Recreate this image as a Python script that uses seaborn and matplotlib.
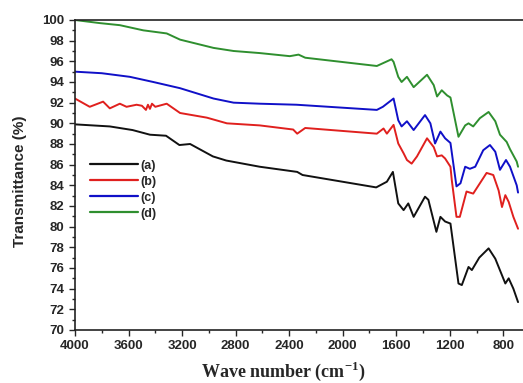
import matplotlib
matplotlib.use('Agg')
import matplotlib.pyplot as plt
from matplotlib.ticker import MultipleLocator
import seaborn as sns
import pandas as pd

# spectra: wavenumber (cm-1) and transmittance (%)
wn_a = [4000, 3740, 3570, 3440, 3320, 3220, 3140, 2970, 2870, 2620, 2340, 2300,
        1750, 1670, 1625, 1585, 1545, 1510, 1470, 1385, 1360, 1300, 1270, 1235,
        1195, 1135, 1110, 1060, 1035, 980, 910, 860, 785, 760, 725, 690]
t_a = [89.9, 89.7, 89.35, 88.9, 88.8, 87.9, 88.0, 86.8, 86.4, 85.8, 85.3, 85.0,
       83.8, 84.35, 85.3, 82.25, 81.6, 82.25, 80.95, 82.9, 82.6, 79.5, 80.95, 80.5,
       80.3, 74.5, 74.35, 76.1, 75.8, 77.0, 77.9, 76.9, 74.5, 75.0, 74.0, 72.7]

wn_b = [4000, 3890, 3790, 3740, 3665, 3615, 3540, 3500, 3470, 3455, 3440, 3425,
        3400, 3315, 3215, 3015, 2865, 2620, 2370, 2340, 2280, 1745, 1695, 1670,
        1620, 1585, 1545, 1520, 1485, 1445, 1370, 1320, 1295, 1260, 1235, 1195,
        1185, 1150, 1125, 1075, 1025, 925, 875, 835, 810, 785, 760, 725, 690]
t_b = [92.4, 91.6, 92.1, 91.45, 91.9, 91.6, 91.8, 91.7, 91.3, 91.8, 91.4, 91.9,
       91.6, 91.9, 91.0, 90.55, 90.0, 89.8, 89.4, 89.0, 89.55, 89.0, 89.5, 89.0,
       89.85, 88.05, 87.1, 86.45, 86.1, 86.8, 88.55, 87.7, 86.8, 86.9, 86.6, 85.8,
       84.5, 80.95, 80.95, 83.4, 83.2, 85.2, 85.0, 83.5, 81.9, 83.05, 82.4, 80.95, 79.8]

wn_c = [4000, 3800, 3590, 3415, 3215, 2965, 2815, 2620, 2345, 1745, 1700, 1620,
        1585, 1560, 1520, 1470, 1385, 1345, 1310, 1270, 1235, 1195, 1150, 1120,
        1085, 1050, 1010, 950, 900, 860, 825, 780, 750, 700, 690]
t_c = [95.0, 94.85, 94.5, 94.0, 93.4, 92.4, 92.0, 91.9, 91.8, 91.3, 91.6, 92.4,
       90.3, 89.7, 90.2, 89.35, 90.8, 90.0, 88.05, 89.2, 88.55, 88.1, 83.9, 84.2,
       85.8, 85.6, 85.8, 87.4, 87.9, 87.25, 85.5, 86.45, 85.8, 84.0, 83.3]

wn_d = [4000, 3815, 3665, 3490, 3315, 3215, 2965, 2815, 2620, 2395, 2330, 2280,
        1745, 1635, 1620, 1585, 1560, 1520, 1470, 1370, 1320, 1295, 1260, 1220,
        1195, 1135, 1085, 1060, 1025, 975, 910, 860, 825, 775, 750, 700, 690]
t_d = [100.0, 99.7, 99.5, 99.0, 98.7, 98.1, 97.3, 97.0, 96.8, 96.5, 96.65, 96.35,
       95.55, 96.2, 95.95, 94.5, 94.0, 94.5, 93.5, 94.7, 93.7, 92.6, 93.2, 92.7,
       92.5, 88.7, 89.8, 90.0, 89.7, 90.5, 91.1, 90.2, 88.9, 88.2, 87.5, 86.3, 85.8]

labels = ['(a)', '(b)', '(c)', '(d)']
colors = ['#111111', '#e0201e', '#1010c8', '#2f8f2f']

frames = []
for lab, wn, t in zip(labels, [wn_a, wn_b, wn_c, wn_d], [t_a, t_b, t_c, t_d]):
    frames.append(pd.DataFrame({'wn': wn, 'T': t, 'sample': lab}))
df = pd.concat(frames, ignore_index=True)

sns.set_style('ticks')
plt.rcParams['font.family'] = ['Liberation Sans', 'DejaVu Sans']
plt.rcParams['mathtext.fontset'] = 'custom'
plt.rcParams['mathtext.rm'] = 'Liberation Serif:bold'
plt.rcParams['mathtext.bf'] = 'Liberation Serif:bold'

fig = plt.figure(figsize=(5.23, 3.83), dpi=100)
ax = fig.add_axes([75 / 523, 1 - 330 / 383, 448 / 523, 310 / 383])

sns.lineplot(data=df, x='wn', y='T', hue='sample', palette=colors, sort=False,
             estimator=None, linewidth=1.4, ax=ax)

ax.set_xlim(4000, 653)
ax.set_ylim(70, 100)
ax.xaxis.set_major_locator(MultipleLocator(400))
ax.xaxis.set_minor_locator(MultipleLocator(200))
ax.yaxis.set_major_locator(MultipleLocator(2))
ax.yaxis.set_minor_locator(MultipleLocator(1))
ax.tick_params(which='major', direction='out', length=4, width=1, labelsize=9.5)
ax.tick_params(which='minor', direction='out', length=2, width=1)
for lbl in ax.get_xticklabels() + ax.get_yticklabels():
    lbl.set_fontweight('bold')
for s in ['left', 'bottom', 'top']:
    ax.spines[s].set_linewidth(1.2)
    ax.spines[s].set_color('#222222')
ax.spines['right'].set_visible(False)

ax.set_ylabel('Transmittance (%)', fontsize=11, fontweight='bold')
ax.yaxis.set_label_coords(-0.108, 0.48)
ax.set_xlabel(r'Wave number (cm$^{\mathbf{-1}}$)', fontsize=13, fontweight='bold',
              family='Liberation Serif')
ax.xaxis.set_label_coords(0.465, -0.095)

leg = ax.legend(loc='upper left', bbox_to_anchor=(0.02, 0.57), frameon=False,
                handlelength=3.8, handletextpad=0.2, labelspacing=0.32,
                borderpad=0, prop={'weight': 'bold', 'size': 9})
for line in leg.get_lines():
    line.set_linewidth(1.6)

fig.savefig('out.png', dpi=100)
